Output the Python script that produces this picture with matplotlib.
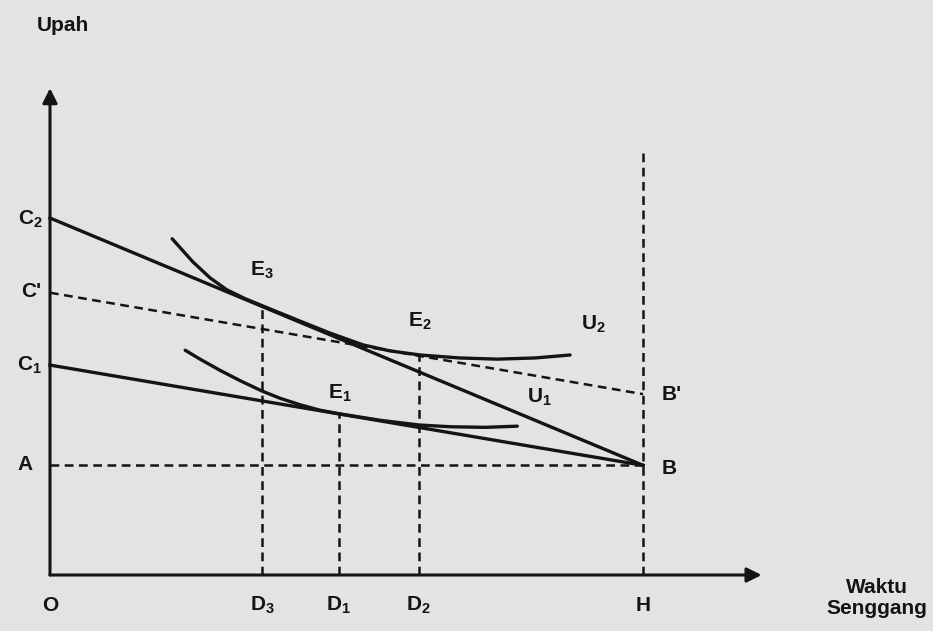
import matplotlib.pyplot as plt

plt.rcParams["font.family"] = ["Liberation Sans", "DejaVu Sans"]
plt.rcParams["mathtext.fontset"] = "custom"
plt.rcParams["mathtext.rm"] = "Liberation Sans"
plt.rcParams["mathtext.bf"] = "Liberation Sans:bold"

# Axis positions (H = 100 on the leisure axis)
H = 100.0
C2 = 60.2
C_prime = 47.6
C1 = 35.4
A = 18.5
B_prime = 30.5
D3, D1, D2 = 35.8, 48.7, 62.2
E3_y, E1_y, E2_y = 45.3, 27.2, 37.0

# Indifference curves
u2_x = [20.6, 22.3, 24.1, 27.0, 29.8, 32.9, 35.8, 42.2, 47.2, 52.8, 57.3, 62.4, 69.1, 75.4, 81.8, 87.7]
u2_y = [56.7, 54.8, 52.8, 50.1, 48.1, 46.6, 45.4, 42.8, 40.8, 38.8, 37.8, 37.1, 36.6, 36.4, 36.6, 37.1]
u1_x = [22.8, 25.3, 28.7, 32.0, 35.8, 38.8, 42.2, 45.5, 48.7, 55.6, 62.2, 67.5, 73.4, 78.8]
u1_y = [37.9, 36.4, 34.5, 32.8, 31.0, 29.8, 28.7, 27.8, 27.2, 26.1, 25.3, 25.0, 24.9, 25.1]

ink = "#141414"
dash = (0, (3.5, 2.2))
lw_solid = 2.4
lw_dash = 1.8

fig = plt.figure(figsize=(9.33, 6.31), dpi=100)
fig.patch.set_facecolor("#e3e3e5")
ax = fig.add_axes([0, 0, 1, 1])
ax.set_facecolor("#e3e3e5")
ax.set_xlim(-8.43, 148.9)
ax.set_ylim(-9.44, 96.96)
ax.axis("off")

# axes with arrows
arrow = dict(arrowstyle="-|>", lw=2.2, color=ink, mutation_scale=22, shrinkA=0, shrinkB=0)
ax.annotate("", xy=(0, 82.1), xytext=(0, 0), arrowprops=arrow)
ax.annotate("", xy=(120, 0), xytext=(0, 0), arrowprops=arrow)

# budget lines
ax.plot([0, H], [C2, A], color=ink, lw=lw_solid)
ax.plot([0, H], [C1, A], color=ink, lw=lw_solid)
ax.plot([0, H], [C_prime, B_prime], color=ink, lw=lw_dash, ls=dash)
ax.plot([0, H], [A, A], color=ink, lw=lw_dash, ls=dash)

# verticals
ax.plot([H, H], [0, 71.7], color=ink, lw=lw_dash, ls=dash)
ax.plot([D3, D3], [0, E3_y], color=ink, lw=lw_dash, ls=dash)
ax.plot([D1, D1], [0, E1_y], color=ink, lw=lw_dash, ls=dash)
ax.plot([D2, D2], [0, E2_y], color=ink, lw=lw_dash, ls=dash)

# indifference curves
ax.plot(u2_x, u2_y, color=ink, lw=lw_solid, solid_joinstyle="round", solid_capstyle="round")
ax.plot(u1_x, u1_y, color=ink, lw=lw_solid, solid_joinstyle="round", solid_capstyle="round")

fs = 15
kw = dict(fontsize=fs, fontweight="bold", color=ink)
ax.text(2.2, 92.7, "Upah", ha="center", va="center", **kw)
ax.text(139.5, -3.9, "Waktu\nSenggang", ha="center", va="center", linespacing=1.15, **kw)

ax.text(-1.3, 59.9, r"$\mathbf{C_2}$", ha="right", va="center", **kw)
ax.text(-1.5, 47.8, "C'", ha="right", va="center", **kw)
ax.text(-1.3, 35.4, r"$\mathbf{C_1}$", ha="right", va="center", **kw)
ax.text(-3.0, 18.7, "A", ha="right", va="center", **kw)

ax.text(0, -5.1, "O", ha="center", va="center", **kw)
ax.text(D3, -5.1, r"$\mathbf{D_3}$", ha="center", va="center", **kw)
ax.text(D1, -5.1, r"$\mathbf{D_1}$", ha="center", va="center", **kw)
ax.text(D2, -5.1, r"$\mathbf{D_2}$", ha="center", va="center", **kw)
ax.text(H, -5.1, "H", ha="center", va="center", **kw)

ax.text(35.8, 51.4, r"$\mathbf{E_3}$", ha="center", va="center", **kw)
ax.text(62.4, 42.7, r"$\mathbf{E_2}$", ha="center", va="center", **kw)
ax.text(48.9, 30.7, r"$\mathbf{E_1}$", ha="center", va="center", **kw)
ax.text(91.6, 42.2, r"$\mathbf{U_2}$", ha="center", va="center", **kw)
ax.text(82.5, 30.0, r"$\mathbf{U_1}$", ha="center", va="center", **kw)
ax.text(103.2, 30.4, "B'", ha="left", va="center", **kw)
ax.text(103.2, 18.0, "B", ha="left", va="center", **kw)

fig.savefig("out.png", dpi=100, facecolor=fig.get_facecolor())
